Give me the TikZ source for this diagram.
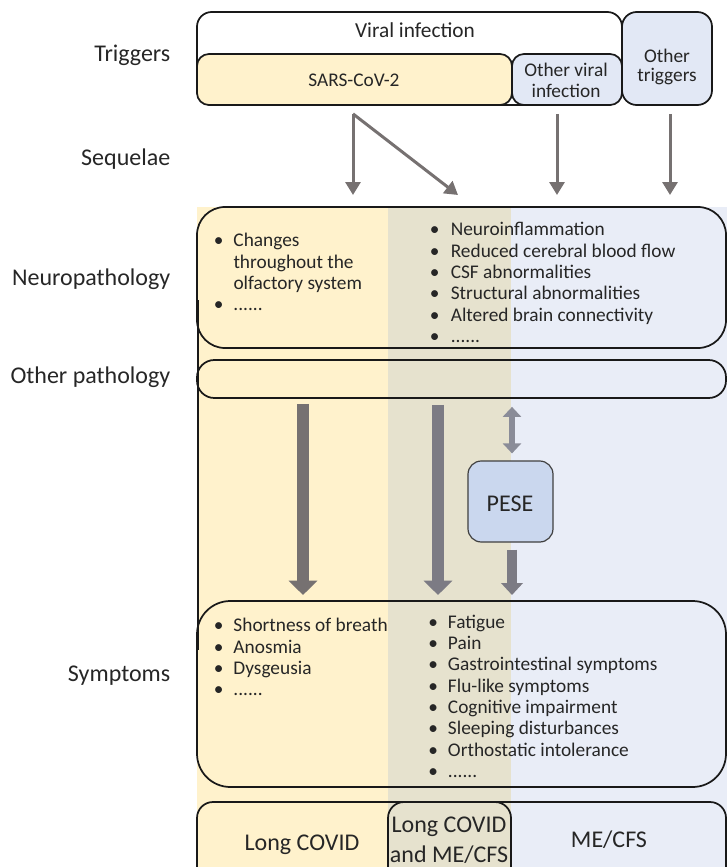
\documentclass[tikz,border=0pt]{standalone}
\usepackage{fontspec}
\setmainfont{Carlito}
\usepackage{tikz}
\usetikzlibrary{arrows.meta,fit}

\definecolor{covyel}{HTML}{FFF2CC}
\definecolor{mecblue}{HTML}{E9EDF7}
\definecolor{bothcol}{HTML}{E6E2CE}
\definecolor{trigblue}{HTML}{E2E8F5}
\definecolor{peseblue}{HTML}{CAD7EE}
\definecolor{arrgray}{HTML}{767171}
\definecolor{arrgrayb}{HTML}{7C7B84}
\definecolor{dblgray}{HTML}{8A8C98}
\definecolor{txtcol}{HTML}{262626}

\newcommand{\bitem}[1][14.8pt]{\makebox[#1][l]{\textbullet}}
\newcommand{\hang}{\hspace*{14.8pt}}
\newcommand{\blist}[1]{\begin{tabular}[t]{@{}l@{}}#1\end{tabular}}

\begin{document}
\begin{tikzpicture}[
    x=0.75pt, y=-0.75pt,
    font=\fontsize{14.5pt}{16pt}\selectfont, text=txtcol,
    frame/.style={draw=black!90, line width=1.3pt, inner sep=0pt, rounded corners=9pt},
    rowbox/.style={draw=black!90, line width=1.3pt, inner sep=0pt},
    rowlbl/.style={anchor=base east, font=\fontsize{18pt}{22pt}\selectfont},
    biglbl/.style={anchor=base, font=\fontsize{18pt}{22pt}\selectfont},
    txt/.style={anchor=base, inner sep=0pt},
    bullets/.style={anchor=base west, inner sep=0pt},
    arrow/.style={-{Triangle[width=11.25pt,length=9.75pt]}, line width=2.25pt, draw=arrgray},
    fatarrow/.style={-{Triangle[width=21pt,length=10.75pt]}, line width=8.75pt},
    pesearrow/.style={-{Triangle[width=16pt,length=9pt]}, line width=7.5pt, draw=arrgrayb},
    dblarrow/.style={{Triangle[width=13.5pt,length=7.5pt]}-{Triangle[width=13.5pt,length=7.5pt]}, line width=4.5pt, draw=dblgray}
]
\useasboundingbox (0,0) rectangle (727,867);
\clip (0,0) rectangle (727,867);

\fill[covyel] (197,207) rectangle (388,867);
\fill[bothcol] (388,207) rectangle (511,867);
\fill[mecblue] (511,207) rectangle (727,867);
\draw[line width=1.1pt, black!90] (198,300) -- (198,650);

\node[frame, fill=white, rounded corners=11pt, fit={(197,12) (622,105)}] (viral) {};
\node[frame, fill=covyel, fit={(197,54) (512,105)}] (sars) {};
\node[frame, fill=trigblue, fit={(512,54) (622,105)}] (othvir) {};
\node[frame, fill=trigblue, rounded corners=11pt, fit={(622,12) (712,105)}] (othtrig) {};
\node[txt, font=\fontsize{16pt}{18pt}\selectfont] (virallbl) at (415,38) {Viral infection};
\node[txt] (sarslbl) at (354,87) {SARS-CoV-2};
\node[txt] (othvirlbl) at (566,76) {Other viral};
\node[txt] (othvirlblb) at (566,98) {infection};
\node[txt] (othtriglbl) at (667,63) {Other};
\node[txt] (othtriglblb) at (667,82) {triggers};

\node[rowlbl] (triglbl) at (175,61.7) {Triggers};
\node[rowlbl] (seqlbl) at (175,165.7) {Sequelae};
\node[rowlbl] (neurolbl) at (175,285) {Neuropathology};
\node[rowlbl] (othlbl) at (175,383) {Other pathology};
\node[rowlbl] (symlbl) at (175,681.7) {Symptoms};

\node[rowbox, rounded corners=21pt, fit={(197,207) (726,348)}] (neuro) {};
\node[rowbox, rounded corners=13pt, fit={(197,360) (726,398)}] (othpath) {};
\node[rowbox, rounded corners=25pt, fit={(197,601) (726,787)}] (symp) {};
\node[rowbox, rounded corners=12pt, fit={(197,802) (726,885)}] (disease) {};
\node[rowbox, rounded corners=12pt, fit={(388,802) (511,885)}] (both) {};

\node[bullets] (neurol) at (213.5,246.7) {\blist{\bitem Changes\\ \hang throughout the\\ \hang olfactory system\\ \bitem ......}};
\node[bullets] (neuror) at (429.5,235.7) {\blist{\bitem[12.5pt] Neuroinflammation\\ \bitem[12.5pt] Reduced cerebral blood flow\\ \bitem[12.5pt] CSF abnormalities\\ \bitem[12.5pt] Structural abnormalities\\ \bitem[12.5pt] Altered brain connectivity\\ \bitem[12.5pt] ......}};
\node[bullets] (sympl) at (213.5,631.7) {\blist{\bitem Shortness of breath\\ \bitem Anosmia\\ \bitem Dysgeusia\\ \bitem ......}};
\node[bullets] (sympr) at (428,628) {\blist{\bitem Fatigue\\ \bitem Pain\\ \bitem Gastrointestinal symptoms\\ \bitem Flu-like symptoms\\ \bitem Cognitive impairment\\ \bitem Sleeping disturbances\\ \bitem Orthostatic intolerance\\ \bitem ......}};

\node[draw=black!75, line width=0.9pt, fill=peseblue, rounded corners=10pt, inner sep=0pt, fit={(468,461) (553,542)}] (pese) {};
\node[biglbl] (peselbl) at (510,511) {PESE};

\node[biglbl] (lclbl) at (302,850) {Long COVID};
\node[biglbl] (bothlbl) at (449,832) {Long COVID};
\node[biglbl] (bothlblb) at (449,862) {and ME/CFS};
\node[biglbl] (melbl) at (609,847) {ME/CFS};

\coordinate (a1) at (353,195);
\coordinate (a2) at (458,195);
\coordinate (a3) at (557,195);
\coordinate (a4) at (670,195);
\draw[arrow] ([yshift=-6pt]sars.south -| a1) -- (a1);
\draw[arrow] ([yshift=-6pt]sars.south -| a1) -- (a2);
\draw[arrow] ([yshift=-6pt]othvir.south -| a3) -- (a3);
\draw[arrow] ([yshift=-6pt]othtrig.south -| a4) -- (a4);

\coordinate (f1) at (303,595);
\coordinate (f2) at (438,595);
\coordinate (f3) at (512,595);
\draw[fatarrow, draw=arrgray] ([yshift=-3.75pt]othpath.south -| f1) -- (f1);
\draw[fatarrow, draw=arrgrayb] ([yshift=-4.5pt]othpath.south -| f2) -- (f2);
\draw[pesearrow] ([yshift=-5.25pt]pese.south -| f3) -- (f3);
\draw[dblarrow] ([yshift=-6pt]othpath.south -| f3) -- ([yshift=5.25pt]pese.north -| f3);
\end{tikzpicture}
\end{document}
